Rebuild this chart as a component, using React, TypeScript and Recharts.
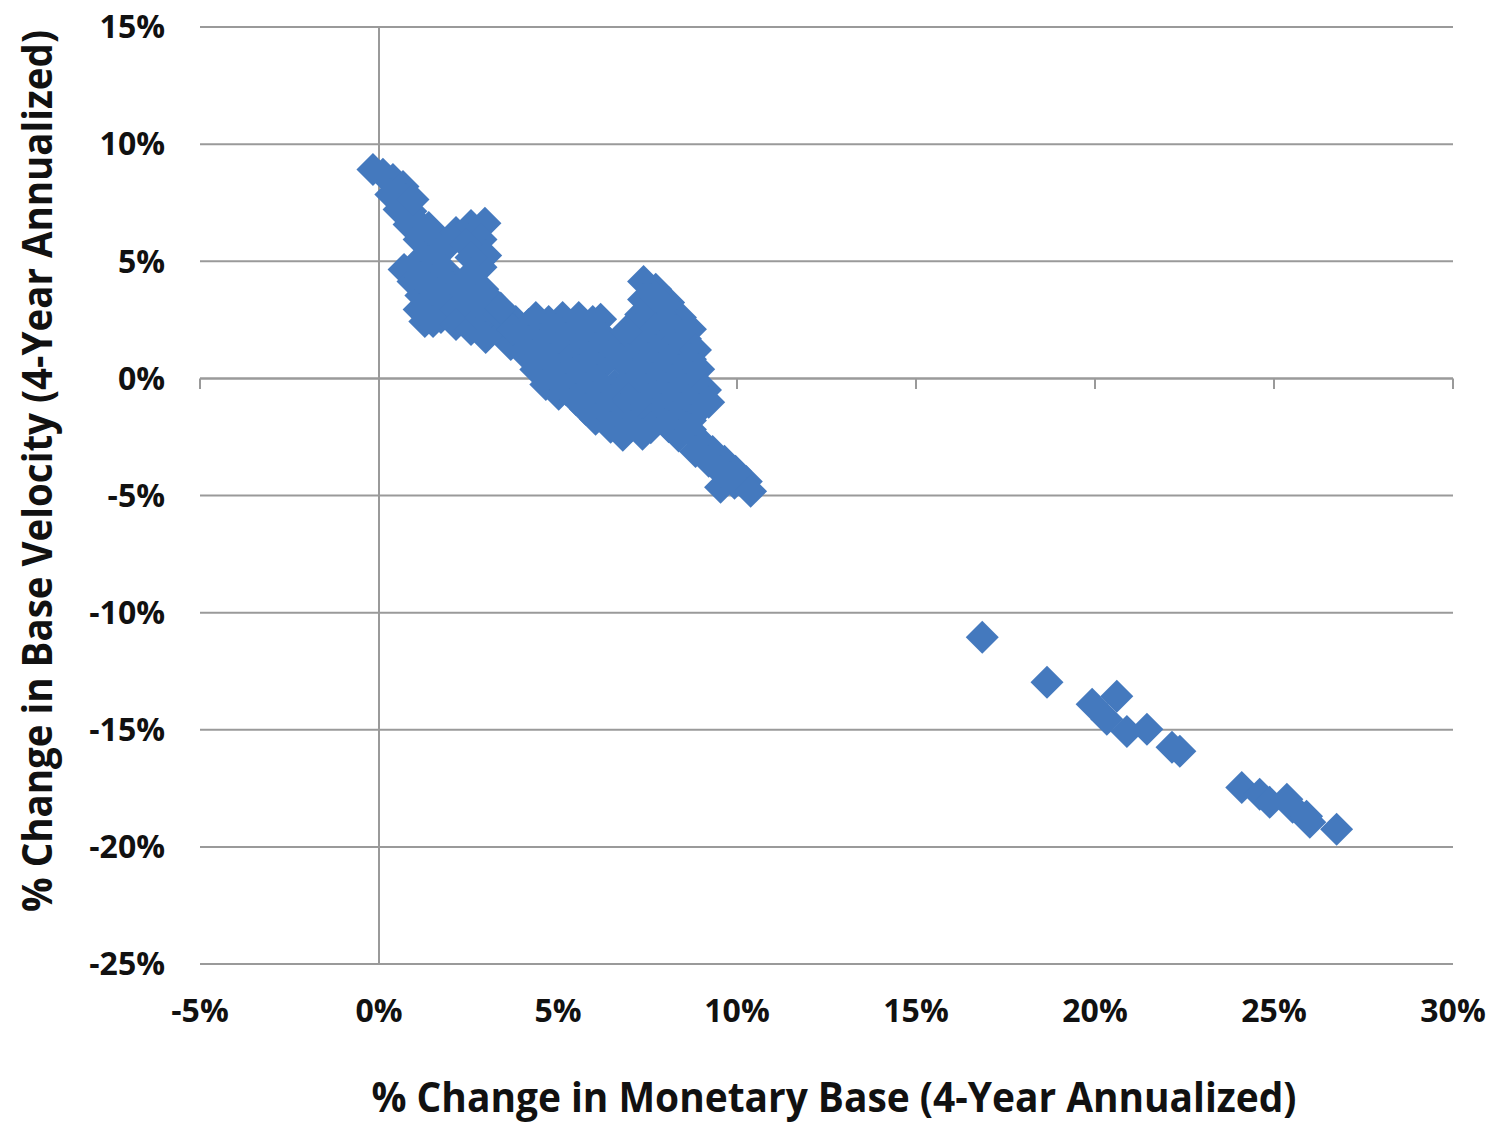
import React from "react";
import {
  ScatterChart,
  Scatter,
  XAxis,
  YAxis,
  CartesianGrid,
  ReferenceLine,
  Label,
} from "recharts";

// [% change in monetary base, % change in base velocity]
const upperArm: [number, number][] = [
  [-0.17, 8.92], [0.11, 8.71], [0.39, 8.49], [0.67, 8.19], [0.75, 7.64],
  [0.89, 7.13], [1.09, 6.62], [1.31, 6.1], [0.33, 7.85], [0.56, 7.21],
  [0.84, 6.57], [1.12, 5.93], [1.39, 6.44], [0.95, 7.64],
];

const crossArm: [number, number][] = [
  [1.73, 5.85], [2.15, 6.23], [2.57, 6.53], [2.96, 6.62], [2.85, 5.93],
  [2.98, 5.25], [2.85, 4.74], [1.59, 5.29], [1.95, 5.72], [2.43, 5.72],
  [2.57, 5.16],
];

const lowerArm: [number, number][] = [
  [0.7, 4.65], [0.95, 4.14], [1.17, 3.54], [1.31, 2.94], [1.28, 2.43],
  [1.67, 3.46], [1.51, 4.31], [1.39, 4.99], [1.87, 4.57], [2.06, 3.88],
  [2.29, 3.16], [2.62, 2.86], [2.9, 3.8], [3.18, 3.29], [1.73, 2.6],
  [1.03, 4.87], [1.17, 4.31], [1.45, 3.8], [1.12, 2.94], [1.51, 2.43],
  [1.87, 3.37], [2.15, 2.94], [2.43, 3.59], [2.57, 4.44],
];

const band: [number, number][] = [
  [2.15, 2.3], [2.57, 2.09], [3.12, 3.16], [3.07, 2.43], [3.54, 2.09],
  [3.82, 2.43], [3.96, 1.75], [4.38, 2.6], [4.74, 2.43], [5.13, 2.6],
  [5.58, 2.6], [5.97, 2.43], [3.68, 1.45], [4.1, 1.02], [4.38, 0.38],
  [4.66, -0.26], [5.02, -0.68], [2.85, 2.6], [3.35, 2.73], [3.74, 2.09],
  [4.18, 2.3], [4.18, 1.58], [4.52, 1.02], [4.66, 2.09], [2.98, 1.75],
  [4.52, 1.66], [4.8, 0.38], [4.74, -0.09], [3.4, 3.0], [2.7, 3.3],
];

const blob: [number, number][] = [
  [7.39, 4.14], [7.73, 3.8], [7.39, 3.37], [8.09, 3.24], [7.59, 2.69],
  [8.42, 2.6], [8.01, 2.52], [6.19, 2.52], [7.59, 3.37], [7.87, 2.94],
  [7.31, 2.73], [7.73, 3.46],
  [4.74, 1.66], [5.22, 1.7], [5.77, 1.62], [6.33, 1.68], [6.89, 1.6],
  [7.45, 1.71], [8.01, 1.64], [8.56, 1.69],
  [4.94, 2.09], [5.5, 2.05], [6.05, 2.11], [7.17, 2.07], [7.73, 2.12],
  [8.28, 2.04], [8.7, 2.1],
  [4.94, 1.24], [5.5, 1.2], [6.05, 1.28], [6.61, 1.22], [7.17, 1.26],
  [7.73, 1.19], [8.28, 1.25], [8.84, 1.21], [6.61, 1.45], [6.42, 0.9],
  [6.75, 0.81], [6.9, 2.0],
  [4.8, 0.81], [5.3, 0.75], [5.86, 0.88], [6.97, 0.79], [7.53, 0.85],
  [8.09, 0.74], [8.7, 0.82],
  [5.02, 0.38], [5.58, 0.34], [6.14, 0.41], [7.25, 0.36], [7.81, 0.4],
  [8.37, 0.35], [8.93, 0.39],
  [5.08, -0.04], [5.58, 0.02], [6.08, -0.1], [6.58, -0.3], [7.09, 0.05],
  [7.64, -0.02], [8.2, -0.08], [8.76, 0.03],
  [5.22, -0.47], [5.77, -0.44], [6.33, -0.5], [6.89, -0.46], [7.45, -0.49],
  [8.01, -0.45], [8.56, -0.48], [9.12, -0.5],
  [5.5, -0.9], [5.97, -0.84], [6.47, -0.95], [6.97, -0.88], [7.53, -0.92],
  [8.09, -0.86], [8.65, -0.97], [9.21, -1.02],
  [5.77, -1.32], [6.19, -1.3], [6.75, -1.35], [7.31, -1.31], [7.87, -1.33],
  [8.42, -1.29], [8.93, -1.34],
  [6.05, -1.75], [6.53, -1.7], [7.03, -1.82], [7.59, -1.77], [8.2, -1.68],
  [8.7, -1.8],
  [6.47, -2.09], [7.03, -2.06], [7.59, -2.11], [8.09, -2.07], [8.59, -2.1],
  [6.81, -2.43], [7.36, -2.38], [8.37, -2.46],
];

const tail: [number, number][] = [
  [8.98, -2.69], [9.32, -3.12], [9.65, -3.54], [9.96, -3.97], [10.26, -4.4],
  [9.54, -4.65], [9.93, -4.48], [10.38, -4.82], [8.7, -2.18], [8.84, -3.12],
  [9.21, -3.54], [9.54, -3.97], [9.82, -4.23],
];

const outliers: [number, number][] = [
  [16.85, -11.05], [18.66, -12.97], [19.92, -13.91], [20.61, -13.57],
  [20.33, -14.55], [20.89, -15.07], [21.45, -14.98], [22.15, -15.75],
  [22.37, -15.92], [24.1, -17.46], [24.6, -17.75], [24.88, -18.1],
  [25.36, -17.97], [25.52, -18.31], [25.91, -18.69], [26.0, -18.95],
  [26.75, -19.25],
];

const xTicks = [-5, 0, 5, 10, 15, 20, 25, 30];
const yTicks = [-25, -20, -15, -10, -5, 0, 5, 10, 15];

const points = [...upperArm, ...crossArm, ...lowerArm, ...band, ...blob, ...tail, ...outliers].map(
  ([x, y]) => ({ x, y })
);

const BLUE = "#4479BE";
const GRID = "#9a9a9a";
const FONT = "'Open Sans', sans-serif";

const pct = (v: number) => `${v}%`;

function Diamond(props: any) {
  const { cx, cy } = props;
  const r = 16.5;
  return (
    <polygon
      points={`${cx},${cy - r} ${cx + r},${cy} ${cx},${cy + r} ${cx - r},${cy}`}
      fill={BLUE}
    />
  );
}

export default function App() {
  return (
    <div style={{ position: "absolute", left: 0, top: 0, background: "#fff" }}>
      <ScatterChart
        width={1495}
        height={1127}
        margin={{ top: 27, right: 42, left: 0, bottom: 0 }}
      >
        <CartesianGrid vertical={false} stroke={GRID} strokeWidth={2} />
        <XAxis
          type="number"
          dataKey="x"
          domain={[-5, 30]}
          ticks={xTicks}
          tickFormatter={pct}
          axisLine={false}
          tickLine={false}
          height={163}
          tickSize={6}
          tickMargin={29}
          tick={{ fill: "#111", fontFamily: FONT, fontWeight: 700, fontSize: 32 }}
          allowDataOverflow
        >
          <Label
            content={() => (
              <text
                x={834}
                y={1112}
                textAnchor="middle"
                fontFamily={FONT}
                fontWeight={700}
                fontSize={41}
                fill="#111"
                textLength={925}
                lengthAdjust="spacingAndGlyphs"
              >
                % Change in Monetary Base (4-Year Annualized)
              </text>
            )}
          />
        </XAxis>
        <YAxis
          type="number"
          dataKey="y"
          domain={[-25, 15]}
          ticks={yTicks}
          tickFormatter={pct}
          axisLine={false}
          tickLine={false}
          width={200}
          tickSize={6}
          tickMargin={29}
          tick={{ fill: "#111", fontFamily: FONT, fontWeight: 700, fontSize: 32 }}
          allowDataOverflow
        >
          <Label
            content={() => (
              <text
                x={52}
                y={471}
                transform="rotate(-90 52 471)"
                textAnchor="middle"
                fontFamily={FONT}
                fontWeight={700}
                fontSize={41}
                fill="#111"
                textLength={882}
                lengthAdjust="spacingAndGlyphs"
              >
                % Change in Base Velocity (4-Year Annualized)
              </text>
            )}
          />
        </YAxis>
        <ReferenceLine x={0} stroke={GRID} strokeWidth={2} />
        <ReferenceLine y={0} stroke={GRID} strokeWidth={2} />
        {xTicks.map((t) => (
          <ReferenceLine
            key={t}
            segment={[
              { x: t, y: 0 },
              { x: t, y: -0.45 },
            ]}
            stroke={GRID}
            strokeWidth={2}
          />
        ))}
        <Scatter data={points} shape={Diamond} isAnimationActive={false} />
      </ScatterChart>
    </div>
  );
}
